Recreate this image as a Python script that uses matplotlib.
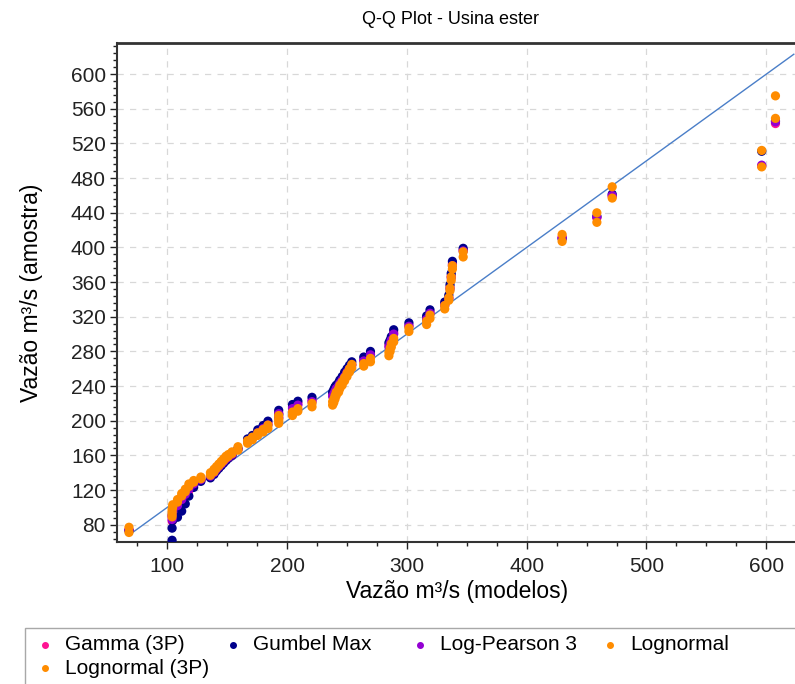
import matplotlib
matplotlib.use('Agg')
import matplotlib.pyplot as plt
from matplotlib.ticker import MultipleLocator
from matplotlib.lines import Line2D
from matplotlib.patches import Rectangle

plt.rcParams['font.family'] = ['Liberation Sans', 'DejaVu Sans']

#%% dados

titulo = 'Q-Q Plot - Usina ester'
xlabel = 'Vazão m³/s (modelos)'
ylabel = 'Vazão m³/s (amostra)'

series = ['Gamma (3P)', 'Gumbel Max', 'Log-Pearson 3', 'Lognormal', 'Lognormal (3P)']
cores = ['#FF1493', '#00008B', '#9400D3', '#FF8C00', '#FF8C00']

x_obs = [68, 104, 104, 104.5, 108.5, 112, 115, 118, 122, 128,
         136, 139, 141, 143, 145, 147, 149, 151, 154, 159,
         167, 171, 175.5, 180, 184, 193, 193, 204.5, 209, 220.8,
         238, 239, 240, 241, 243, 244, 246, 248, 250, 252,
         254, 264, 269.6, 285, 286, 287, 289, 301.7, 316.5, 319.3,
         331.6, 335, 336, 337, 338, 347, 429.6, 458.6, 471.4, 596.2,
         607.7]

y_gamma = [74, 84, 89, 94, 99, 106, 112, 119, 126, 131,
           135, 139, 143, 146, 149, 152, 155, 157, 160, 167,
           177, 181, 187, 192, 197, 204, 209, 216, 220, 224,
           230, 233, 236, 238, 241, 244, 248, 253, 257, 261,
           265, 270, 277, 287, 290, 294, 302, 310, 318, 325,
           334, 342, 354, 367, 381, 397, 412, 434, 459, 494,
           543]

y_gumbel = [73, 62, 76, 85, 88.6, 95.6, 104, 113, 123, 130,
            134, 138, 142, 145, 148, 151, 154, 157, 160, 168,
            179, 183, 189.5, 194.5, 199.5, 207, 212, 218.7, 222.5, 227,
            233, 236, 239, 241, 244, 247, 251, 256, 260, 264,
            268, 273.5, 280, 290, 293, 297, 305, 313, 321, 328,
            337, 345, 357, 370, 384, 399, 410, 436, 461.5, 511,
            546]

y_lp3 = [74, 86, 91, 96, 102, 109, 115, 121, 127, 132,
         136, 140, 144, 147, 150, 153, 156, 158, 161, 167,
         176, 180, 186, 191, 195, 203, 208, 214, 218, 222,
         228, 231, 234, 237, 240, 243, 247, 251, 256, 260,
         264, 269, 276, 285, 289, 293, 300, 309, 317, 324,
         333, 341, 352, 365, 379, 396, 411, 435, 460, 495,
         545]

y_lognormal = [71, 89, 95, 100, 106, 113, 118, 124, 129, 133,
               137, 141, 145, 148, 151, 154, 157, 159, 162, 166,
               174, 178, 183, 187, 191, 197, 202, 206, 211, 216,
               218, 221, 225, 229, 233, 237, 241, 246, 251, 256,
               261, 263, 268, 275, 280, 285, 291, 303, 311, 318,
               329, 339, 350, 362, 375, 389, 407, 429, 457, 493,
               549]

y_lognormal3p = [77, 92, 98, 103, 109, 116, 121, 127, 131, 135,
                 140, 144, 147, 150, 153, 156, 159, 161, 164, 170,
                 177, 181, 186, 190, 195, 200, 206, 210, 214, 220,
                 222, 225, 229, 233, 237, 241, 245, 250, 255, 260,
                 265, 266, 272, 279, 284, 289, 295, 307, 315, 322,
                 333, 342, 353, 366, 379, 395, 415, 440, 470, 512,
                 575]

linha_ref = [68, 623]

#%%

FS = 15

fig = plt.figure(figsize=(7.95, 6.84), dpi=100)
ax = fig.add_axes([117/795, 1 - 542/684, (795 - 117)/795 + 0.003, (542 - 43)/684])

ax.plot(linha_ref, linha_ref, color='#4A7EC8', lw=1.0, zorder=2)

for nome, cor, y in zip(series, cores, [y_gamma, y_gumbel, y_lp3, y_lognormal, y_lognormal3p]):
    ax.scatter(x_obs, y, s=44, color=cor, edgecolors='none', label=nome, zorder=3)

ax.set_xlim(58, 626)
ax.set_ylim(60, 636)
ax.xaxis.set_major_locator(MultipleLocator(100))
ax.xaxis.set_minor_locator(MultipleLocator(25))
ax.yaxis.set_major_locator(MultipleLocator(40))
ax.yaxis.set_minor_locator(MultipleLocator(8))
ax.tick_params(which='major', direction='out', length=5, width=1, labelsize=FS, colors='#222222', pad=3)
ax.tick_params(axis='x', which='major', pad=6)
ax.tick_params(which='minor', direction='out', length=3, width=1, colors='#222222')
ax.grid(which='major', color='#D8D8D8', ls=(0, (5, 5)), lw=0.9)
ax.set_axisbelow(True)

for s in ['left', 'bottom', 'top']:
    ax.spines[s].set_color('#333333')
ax.spines['left'].set_linewidth(1.5)
ax.spines['bottom'].set_linewidth(1.5)
ax.spines['top'].set_linewidth(2)
ax.spines['right'].set_visible(False)

ax.set_xlabel(xlabel, fontsize=FS + 1.5, labelpad=3)
ax.set_ylabel(ylabel, fontsize=FS + 1.5, labelpad=20)
fig.text(450/795, 1 - 20/684, titulo, ha='center', va='center', fontsize=FS - 2)

# legenda desenhada a mao (colunas fixas como no original)
fig.add_artist(Rectangle((25/795, -0.01), 1.0, 1 - 628/684 + 0.01, transform=fig.transFigure,
                         facecolor='white', edgecolor='#A8A8A8', lw=1))
pos_leg = [(45, 645), (233, 645), (420, 645), (610, 645), (45, 668)]
for nome, cor, (px, py) in zip(series, cores, pos_leg):
    fig.add_artist(Line2D([px/795], [1 - py/684], marker='o', ms=4, color=cor, ls='none',
                          transform=fig.transFigure))
    fig.text((px + 20)/795, 1 - py/684, nome, ha='left', va='center', fontsize=FS)

fig.savefig('out.png', dpi=100)
